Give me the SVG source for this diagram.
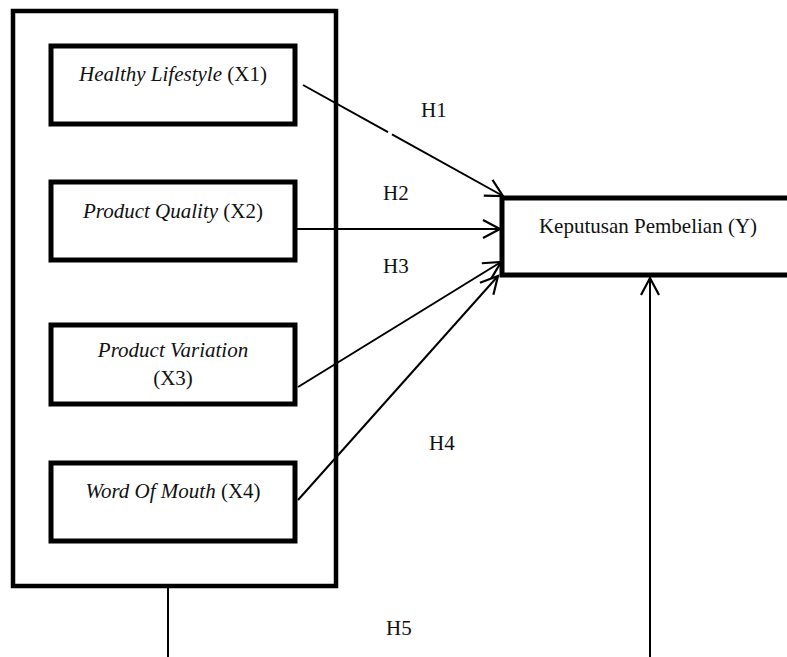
<svg xmlns="http://www.w3.org/2000/svg" width="787" height="657" viewBox="0 0 787 657">
<style>
.box{fill:#fff;stroke:#000;stroke-width:5}
.outer{fill:#fff;stroke:#000;stroke-width:4.5}
.t{font-family:"Liberation Serif","Times New Roman",serif;font-size:21px;fill:#111}
.i{font-style:italic}
.c{fill:none;stroke:#000;stroke-width:2}
</style>
<defs>
<marker id="ah" markerUnits="userSpaceOnUse" markerWidth="24" markerHeight="24" refX="18" refY="10" orient="auto" viewBox="0 0 24 20">
<path d="M1,1 L18,10 L1,19" fill="none" stroke="#000" stroke-width="2.2"/>
</marker>
</defs>
<g id="outer"><rect class="outer" x="13" y="11" width="323" height="575"/></g>
<g id="x1"><rect class="box" x="51" y="46" width="244" height="78"/>
<text class="t" x="173" y="81" text-anchor="middle"><tspan class="i">Healthy Lifestyle</tspan> (X1)</text></g>
<g id="x2"><rect class="box" x="51" y="182" width="244" height="78"/>
<text class="t" x="173" y="218" text-anchor="middle"><tspan class="i">Product Quality</tspan> (X2)</text></g>
<g id="x3"><rect class="box" x="51" y="325" width="244" height="79"/>
<text class="t i" x="173" y="357" text-anchor="middle">Product Variation</text>
<text class="t" x="173" y="385" text-anchor="middle">(X3)</text></g>
<g id="x4"><rect class="box" x="51" y="463" width="244" height="78"/>
<text class="t" x="173" y="498" text-anchor="middle"><tspan class="i">Word Of Mouth</tspan> (X4)</text></g>
<g id="y"><rect class="box" x="502" y="198" width="320" height="77" stroke-width="5.5"/>
<text class="t" x="648" y="233" text-anchor="middle">Keputusan Pembelian (Y)</text></g>
<g id="connectors">
<line class="c" x1="303" y1="85" x2="388" y2="132.2"/>
<line class="c" x1="392" y1="134.4" x2="503" y2="196" marker-end="url(#ah)"/>
<line class="c" x1="297" y1="229" x2="500" y2="229" marker-end="url(#ah)"/>
<line class="c" x1="298" y1="387" x2="501" y2="262" marker-end="url(#ah)"/>
<line class="c" x1="298" y1="500" x2="498" y2="276" marker-end="url(#ah)"/>
<line class="c" x1="168" y1="588" x2="168" y2="657" stroke-width="2.5"/>
<line class="c" x1="650" y1="657" x2="650" y2="278" stroke-width="2.5" marker-end="url(#ah)"/>
</g>
<g id="labels">
<text class="t" x="421" y="117">H1</text>
<text class="t" x="383" y="200">H2</text>
<text class="t" x="383" y="273">H3</text>
<text class="t" x="429" y="450">H4</text>
<text class="t" x="386" y="635">H5</text>
</g>
</svg>
